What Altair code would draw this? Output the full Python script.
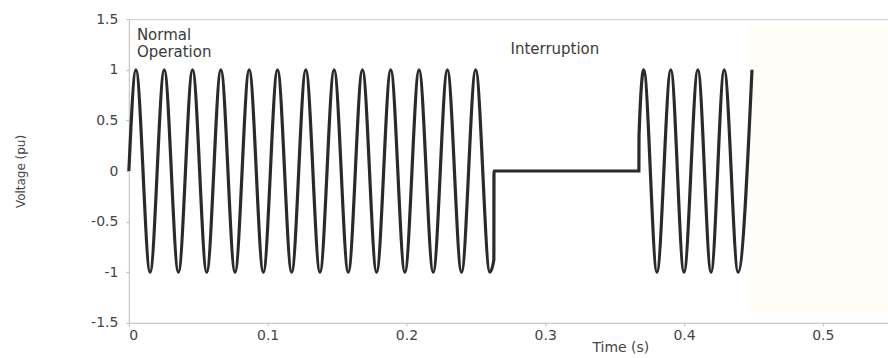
import altair as alt
import pandas as pd

# --- values -------------------------------------------------------------
# normal operation: start point, then alternating peaks / troughs (s, pu)
normal_t = [0.0, 0.0051, 0.0153, 0.0255, 0.0357, 0.0459, 0.0561, 0.0663, 0.0765,
            0.0867, 0.0969, 0.1071, 0.1173, 0.1275, 0.1377, 0.1479, 0.1581,
            0.1683, 0.1785, 0.1887, 0.1989, 0.2091, 0.2193, 0.2295, 0.2397,
            0.2499, 0.2601]
normal_v = [0, 1, -1, 1, -1, 1, -1, 1, -1, 1, -1, 1, -1, 1, -1, 1, -1,
            1, -1, 1, -1, 1, -1, 1, -1, 1, -1]
# interruption: step to zero, flat, step back
interrupt_t = [0.263, 0.2631, 0.3675, 0.3676]
interrupt_v = [-0.88, 0, 0, 0.35]
# recovery: peaks / troughs
recover_t = [0.371, 0.3805, 0.3905, 0.4, 0.41, 0.4195, 0.429, 0.439, 0.449]
recover_v = [1, -1, 1, -1, 1, -1, 1, -1, 1]

x_ticks = [0, 0.1, 0.2, 0.3, 0.4, 0.5]
y_ticks = [-1.5, -1, -0.5, 0, 0.5, 1, 1.5]

labels_text = ["Normal", "Operation", "Interruption"]
labels_t = [0.0058, 0.0058, 0.307]
labels_v = [1.29, 1.125, 1.155]
labels_align = ["left", "left", "center"]

shade_t = [0.447]
shade_t2 = [0.547]
shade_v = [-1.4]
shade_v2 = [1.42]

# --- tables ---------------------------------------------------------------
wave = pd.DataFrame({
    "t": normal_t + interrupt_t + recover_t,
    "v": normal_v + interrupt_v + recover_v,
})
wave["order"] = range(len(wave))

labels = pd.DataFrame({"text": labels_text, "t": labels_t, "v": labels_v,
                       "align": labels_align})
shade = pd.DataFrame({"t": shade_t, "t2": shade_t2, "v": shade_v, "v2": shade_v2})

FONT = "DejaVu Sans"

x_scale = alt.Scale(domain=[0, 0.547], nice=False, zero=False)
y_scale = alt.Scale(domain=[-1.5, 1.5], nice=False)

x_axis = alt.Axis(values=x_ticks, title="Time (s)", grid=False,
                  labelFont=FONT, labelFontSize=14, labelColor="#444",
                  labelPadding=3, tickSize=3, tickColor="#bbb",
                  domainColor="#c8c8c8",
                  labelExpr="datum.value == 0 ? '0' : format(datum.value, '.1f')",
                  titleFont=FONT, titleFontSize=14, titleFontWeight="normal",
                  titleColor="#444", titleX=492, titleY=25,
                  titleBaseline="middle", titleAlign="center")
y_axis = alt.Axis(values=y_ticks, title="Voltage (pu)", grid=False,
                  labelFont=FONT, labelFontSize=14, labelColor="#444",
                  labelPadding=8, tickSize=3, tickColor="#bbb",
                  domainColor="#c8c8c8",
                  labelExpr="datum.value < 0 ? '-' + format(-datum.value, '~g') : format(datum.value, '~g')",
                  titleFont=FONT, titleFontSize=12, titleFontWeight="normal",
                  titleColor="#444", titleX=-108, titleY=152,
                  titleBaseline="middle", titleAlign="center", titleAngle=-90)

bg = alt.Chart(shade).mark_rect(color="#fffdf5").encode(
    x=alt.X("t:Q", scale=x_scale, axis=x_axis),
    x2="t2:Q",
    y=alt.Y("v:Q", scale=y_scale, axis=y_axis),
    y2="v2:Q",
)

line = alt.Chart(wave).mark_line(color="#2a2a2a", strokeWidth=3.2,
                                 interpolate="monotone").encode(
    x=alt.X("t:Q", scale=x_scale, axis=x_axis),
    y=alt.Y("v:Q", scale=y_scale, axis=y_axis),
    order="order:Q",
)

txt_left = alt.Chart(labels[labels["align"] == "left"]).mark_text(
    align="left", baseline="alphabetic", font=FONT, fontSize=15, color="#3a3a3a"
).encode(x=alt.X("t:Q", scale=x_scale), y=alt.Y("v:Q", scale=y_scale), text="text:N")

txt_center = alt.Chart(labels[labels["align"] == "center"]).mark_text(
    align="center", baseline="alphabetic", font=FONT, fontSize=15, color="#3a3a3a"
).encode(x=alt.X("t:Q", scale=x_scale), y=alt.Y("v:Q", scale=y_scale), text="text:N")

chart = alt.layer(bg, line, txt_left, txt_center).properties(
    width=760, height=304,
    autosize=alt.AutoSizeParams(type="none"),
    padding={"left": 129, "top": 19, "right": 0, "bottom": 35},
    background="white",
).configure_view(stroke="#d0d0d0")

chart.save("out.html", embed_options={"renderer": "svg", "actions": False})
